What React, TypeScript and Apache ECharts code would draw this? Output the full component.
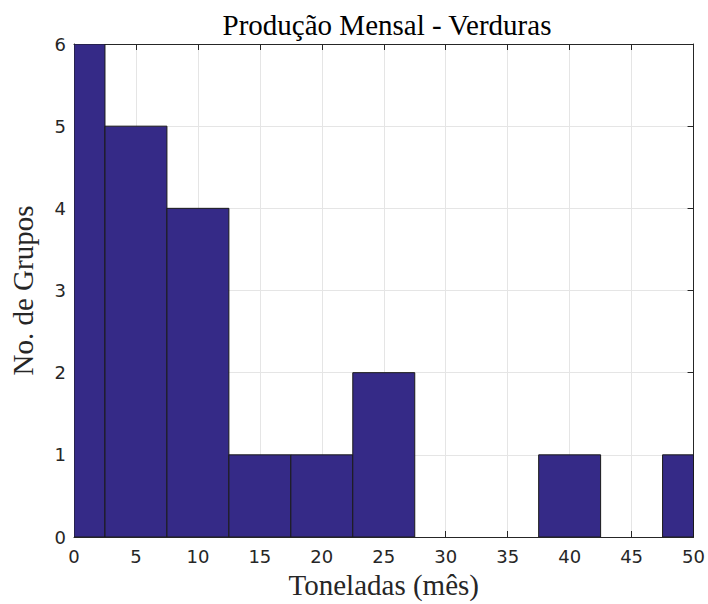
import React, { useEffect, useRef } from "react";
import * as echarts from "echarts";

const binStarts = [-2.5, 2.5, 7.5, 12.5, 17.5, 22.5, 27.5, 32.5, 37.5, 42.5, 47.5];
const binEnds = [2.5, 7.5, 12.5, 17.5, 22.5, 27.5, 32.5, 37.5, 42.5, 47.5, 52.5];
const counts = [6, 5, 4, 1, 1, 2, 0, 0, 1, 0, 1];
const xTicks = [0, 5, 10, 15, 20, 25, 30, 35, 40, 45, 50];
const yTicks = [0, 1, 2, 3, 4, 5, 6];

const TITLE = "Produção Mensal - Verduras";
const XLABEL = "Toneladas (mês)";
const YLABEL = "No. de Grupos";

export default function App() {
  const ref = useRef<HTMLDivElement>(null);
  useEffect(() => {
    if (!ref.current) return;
    document.body.style.margin = "0";
    const chart = echarts.init(ref.current, undefined, { renderer: "svg" });
    const axisColor = "#262626";
    const gridColor = "#e5e5e5";
    const serif = "'Liberation Serif', 'DejaVu Serif', serif";
    const sans = "'DejaVu Sans', sans-serif";
    const data = counts.map((c, i) => [binStarts[i], binEnds[i], c]);
    const baseX = {
      type: "value" as const,
      min: xTicks[0],
      max: xTicks[xTicks.length - 1],
      interval: 5,
    };
    const baseY = {
      type: "value" as const,
      min: yTicks[0],
      max: yTicks[yTicks.length - 1],
      interval: 1,
    };
    chart.setOption({
      animation: false,
      backgroundColor: "#ffffff",
      title: {
        text: TITLE,
        left: 382,
        top: 5,
        textAlign: "center",
        textStyle: { fontFamily: serif, fontSize: 29, fontWeight: "normal", color: "#000" },
      },
      grid: { left: 68, right: 12, top: 44, bottom: 63, containLabel: false },
      xAxis: [
        {
          ...baseX,
          position: "bottom",
          name: XLABEL,
          nameLocation: "middle",
          nameGap: 33,
          nameTextStyle: { fontFamily: serif, fontSize: 29, color: "#262626" },
          axisLine: { show: true, onZero: false, lineStyle: { color: axisColor, width: 1 } },
          axisTick: { show: true, inside: true, length: 6, lineStyle: { color: axisColor } },
          axisLabel: { fontFamily: sans, fontSize: 18, color: axisColor, margin: 10 },
          splitLine: { show: true, lineStyle: { color: gridColor, width: 1 } },
        },
        {
          ...baseX,
          position: "top",
          axisLine: { show: true, onZero: false, lineStyle: { color: axisColor, width: 1 } },
          axisTick: { show: true, inside: true, length: 6, lineStyle: { color: axisColor } },
          axisLabel: { show: false },
          splitLine: { show: false },
        },
      ],
      yAxis: [
        {
          ...baseY,
          position: "left",
          name: YLABEL,
          nameLocation: "middle",
          nameGap: 37,
          nameRotate: 90,
          nameTextStyle: { fontFamily: serif, fontSize: 29, color: "#262626" },
          axisLine: { show: true, onZero: false, lineStyle: { color: axisColor, width: 1 } },
          axisTick: { show: true, inside: true, length: 6, lineStyle: { color: axisColor } },
          axisLabel: { fontFamily: sans, fontSize: 18, color: axisColor, margin: 8 },
          splitLine: { show: true, lineStyle: { color: gridColor, width: 1 } },
        },
        {
          ...baseY,
          position: "right",
          axisLine: { show: true, onZero: false, lineStyle: { color: axisColor, width: 1 } },
          axisTick: { show: true, inside: true, length: 6, lineStyle: { color: axisColor } },
          axisLabel: { show: false },
          splitLine: { show: false },
        },
      ],
      series: [
        {
          type: "custom",
          xAxisIndex: 0,
          yAxisIndex: 0,
          clip: true,
          z: 3,
          data,
          renderItem: (params: any, api: any) => {
            const x0 = api.value(0);
            const x1 = api.value(1);
            const c = api.value(2);
            if (!c) return null;
            const p0 = api.coord([x0, c]);
            const p1 = api.coord([x1, 0]);
            const rect = {
              x: p0[0],
              y: p0[1],
              width: p1[0] - p0[0],
              height: p1[1] - p0[1],
            };
            const cs = params.coordSys;
            const clipped = echarts.graphic.clipRectByRect(rect, {
              x: cs.x,
              y: cs.y,
              width: cs.width,
              height: cs.height,
            });
            if (!clipped) return null;
            return {
              type: "rect",
              shape: clipped,
              style: { fill: "#352a87", stroke: "#1a1a1a", lineWidth: 1 },
            };
          },
        },
      ],
    });
    return () => chart.dispose();
  }, []);
  return <div ref={ref} style={{ width: 708, height: 604 }} />;
}
